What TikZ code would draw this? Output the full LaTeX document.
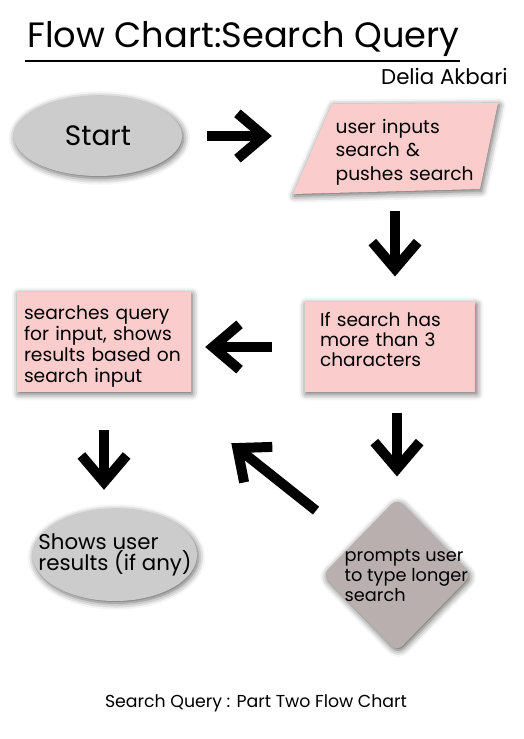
\documentclass[tikz,border=0pt]{standalone}
\usepackage{fontspec}
\setmainfont{Poppins}
\usetikzlibrary{arrows.meta,shapes.geometric,shadows.blur}
\definecolor{boxpink}{RGB}{250,204,204}
\definecolor{ovalgrey}{RGB}{204,204,204}
\definecolor{diamondgrey}{RGB}{186,175,175}
\tikzset{every picture/.style={line width=0.75pt}}
\tikzset{
  softshadow/.style={blur shadow={shadow xshift=1pt,shadow yshift=-1.5pt,shadow blur radius=5pt,shadow opacity=65}},
  oval/.style={ellipse,fill=ovalgrey,softshadow},
  pinkbox/.style={rectangle,fill=boxpink,softshadow,align=left},
  bigarrow/.style={line width=7.5pt,-{Straight Barb[length=20pt,width=34pt,line width=7.5pt]}},
}

\begin{document}
\begin{tikzpicture}[x=0.75pt,y=0.75pt,yscale=-1,xscale=1]
		\useasboundingbox (0,0) rectangle (524,739);

		% Title
		\node (title) [anchor=base west,inner sep=0pt,font=\fontsize{26.4}{30}\selectfont] at (27,47) {Flow Chart:Search Query};
		\draw [line width=1.5pt] (25,61) -- (460,61);
		\node (author) [anchor=base east,inner sep=0pt,font=\fontsize{16}{19}\selectfont] at (508,84) {Delia Akbari};

		%Shape: Parallelogram
		\fill [boxpink,softshadow] (332,104) -- (498,103) -- (480,189) -- (293,194) -- cycle;

		% Nodes
		\node (start) [oval,minimum width=126pt,minimum height=60pt,font=\fontsize{21}{24}\selectfont] at (98,136) {Start};
		\node (input) [minimum width=154pt,minimum height=67.5pt,
			label={[align=left,xshift=7.5pt,text width=104pt,text height=16.5pt,font=\fontsize{14}{17.6}\selectfont]center:user inputs\\search \&\\pushes search}] at (395,148) {};
		\node (cond) [pinkbox,minimum width=128pt,minimum height=67pt,inner xsep=11pt,text width=105pt,text depth=42pt,font=\fontsize{13.9}{15}\selectfont] at (390,347) {If search has\\more than 3\\characters};
		\node (search) [pinkbox,minimum width=130pt,minimum height=67pt,inner xsep=5pt,text width=120pt,text height=17pt,font=\fontsize{14}{15.75}\selectfont] at (104,342) {searches query\\for input, shows\\results based on\\search input};
		\node (results) [oval,minimum width=123pt,minimum height=69pt,
			label={[align=left,font=\fontsize{16}{15}\selectfont]center:Shows user\\results (if any)}] at (115,555) {};
		\node (prompt) [diamond,fill=diamondgrey,rounded corners=6pt,minimum width=112pt,minimum height=115pt,softshadow,
			label={[align=left,xshift=7pt,font=\fontsize{13.3}{15}\selectfont]center:prompts user\\to type longer\\search}] at (397,575) {};

		% Arrows
		\draw [bigarrow,shorten <=18pt,shorten >=15pt] (start.east) -- (start.east -| input.west);
		\draw [bigarrow,shorten <=12.75pt,shorten >=19pt] (input.south) -- (input.south |- cond.north);
		\draw [bigarrow,shorten <=24pt,shorten >=10.5pt] (cond.west) -- (cond.west -| search.east);
		\draw [bigarrow,shorten <=28.5pt,shorten >=14pt] (search.south) -- (search.south |- results.north);
		\draw [bigarrow,shorten <=15.4pt,shorten >=16pt] (cond.south -| prompt) -- (prompt.north);
		\draw [bigarrow,shorten <=37pt,shorten >=61.5pt] (prompt) -- (search);

		% Footer
		\node (footer) [font=\fontsize{13}{16}\selectfont] at (256,703) {Search Query : Part Two Flow Chart};

\end{tikzpicture}
\end{document}
